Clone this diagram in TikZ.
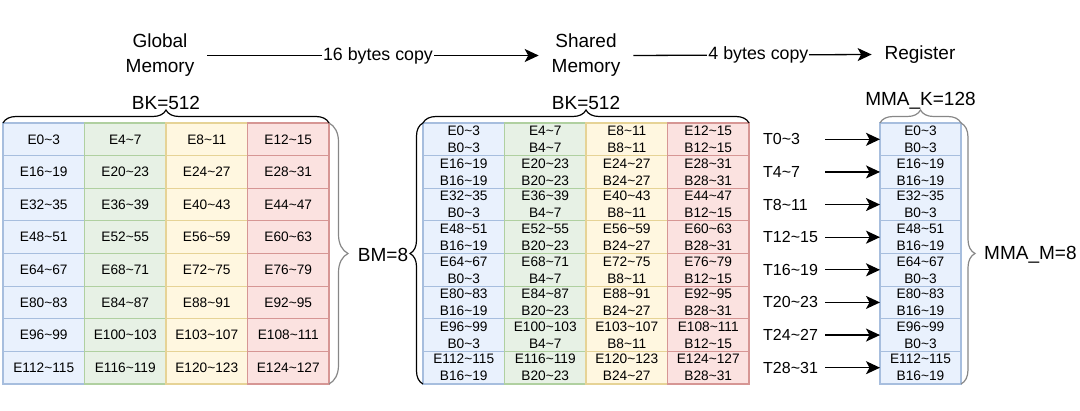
\documentclass[tikz,border=0pt]{standalone}
\usepackage{fontspec}
\setmainfont{Liberation Sans}
\usetikzlibrary{decorations.pathreplacing,arrows.meta}
\definecolor{fillb}{RGB}{233,241,253}
\definecolor{fillg}{RGB}{231,241,229}
\definecolor{filly}{RGB}{255,247,224}
\definecolor{fillr}{RGB}{251,226,224}
\definecolor{lineb}{RGB}{167,190,222}
\definecolor{lineg}{RGB}{176,208,160}
\definecolor{liney}{RGB}{230,211,150}
\definecolor{liner}{RGB}{214,150,148}
\definecolor{bracegray}{RGB}{135,135,135}
\newcommand\tld{\textasciitilde}
\begin{document}
\begin{tikzpicture}[x=1pt,y=-1pt,
  big/.style={font=\fontsize{19}{25}\selectfont, inner sep=0pt},
  title/.style={big, align=center, outer xsep=13pt},
  lab/.style={font=\fontsize{17.8}{22}\selectfont, fill=white, inner xsep=1pt, inner ysep=2pt},
  cell/.style={rectangle, line width=1.1pt, inner sep=0pt, outer sep=0pt,
    minimum width=81.5pt, minimum height=32.625pt, align=center,
    font=\fontsize{13.7}{17}\selectfont},
  arr/.style={line width=1.3pt, -{Stealth[length=14pt,width=13pt,inset=3.5pt]}},
  brc/.style={line width=1.2pt, decorate, decoration={brace, amplitude=#1}},
  tlab/.style={font=\fontsize{16}{19}\selectfont, inner sep=0pt, text width=62pt, align=left, anchor=west}
]
\useasboundingbox (0,0) rectangle (1080,411);

% titles
\node[title] (gm) at (160,55.5) {Global\\Memory};
\node[title] (sm) at (586,55.5) {Shared\\Memory};
\node[title] (rg) at (920,54.5) {Register};
\draw[arr] (gm.east) -- node[lab, pos=0.515] {16 bytes copy} (sm.west);
\draw[arr] (sm.east) -- node[lab, pos=0.525] {4 bytes copy} (rg.west);

% grids
\foreach \r in {0,...,7}{
  \foreach \c/\col in {0/b,1/g,2/y,3/r}{
    \pgfmathtruncatemacro\na{16*\r+4*\c}
    \pgfmathtruncatemacro\nb{\na+3}
    \ifnum\na=104 \def\na{103}\fi
    \pgfmathtruncatemacro\ba{mod(\r,2)*16+4*\c}
    \pgfmathtruncatemacro\bb{\ba+3}
    \node[cell, fill=fill\col, draw=line\col] (g\r\c) at ({3+81.5*(\c+0.5)},{123+32.625*(\r+0.5)}) {E\na\tld\nb};
    \node[cell, fill=fill\col, draw=line\col] (s\r\c) at ({423+81.5*(\c+0.5)},{123+32.625*(\r+0.5)}) {E\na\tld\nb\\B\ba\tld\bb};
  }
  \pgfmathtruncatemacro\ea{16*\r}
  \pgfmathtruncatemacro\eb{\ea+3}
  \pgfmathtruncatemacro\ba{mod(\r,2)*16}
  \pgfmathtruncatemacro\bb{\ba+3}
  \pgfmathtruncatemacro\ta{4*\r}
  \pgfmathtruncatemacro\tb{\ta+3}
  \node[cell, fill=fillb, draw=lineb, minimum width=81pt] (r\r) at (920.5,{123+32.625*(\r+0.5)}) {E\ea\tld\eb\\B\ba\tld\bb};
  \node[tlab] (t\r) at (763,{123+32.625*(\r+0.5)}) {T\ta\tld\tb};
  \draw[arr] (t\r.east) -- (r\r.west);
}

% braces
\draw[brc=13pt] (g00.north west) -- (g03.north east) node[midway, above=13pt, big] (bk1) {BK=512};
\draw[brc=19pt, draw=bracegray] (g03.north east) -- (g73.south east);
\draw[brc=13pt] (s70.south west) -- (s00.north west);
\node[big] (bm) at (383,255) {BM=8};
\draw[brc=13pt] (s00.north west) -- (s03.north east) node[midway, above=13pt, big] (bk2) {BK=512};
\draw[brc=13pt, draw=bracegray] (r0.north west) -- (r0.north east) node[midway, above=13pt, big] (mk) {MMA\_K=128};
\draw[brc=14pt, draw=bracegray] (r0.north east) -- (r7.south east);
\node[big, anchor=west] (mm) at (984,255) {MMA\_M=8};
\end{tikzpicture}
\end{document}
